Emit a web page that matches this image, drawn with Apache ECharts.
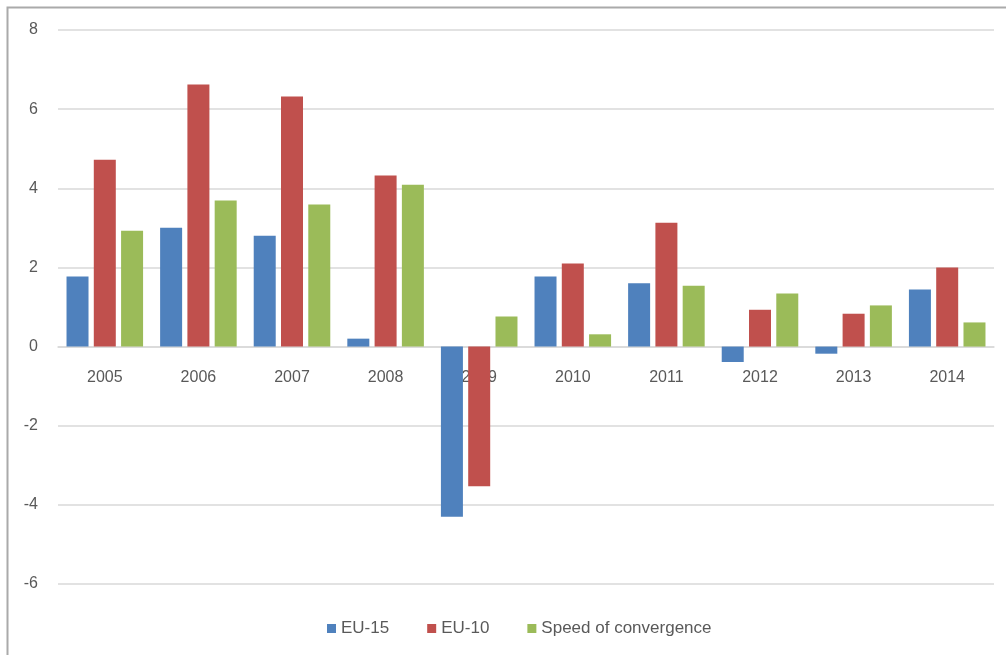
<!DOCTYPE html>
<html><head><meta charset="utf-8">
<script src="https://cdn.jsdelivr.net/npm/echarts@6/dist/echarts.min.js"></script>
<style>html,body{margin:0;padding:0;background:#fff}#c{width:1006px;height:655px}</style>
</head><body><div id="c"></div>
<script>
var categories = ['2005','2006','2007','2008','2009','2010','2011','2012','2013','2014'];
var eu15 = [1.77, 3.0, 2.8, 0.2, -4.3, 1.77, 1.6, -0.39, -0.18, 1.44];
var eu10 = [4.72, 6.62, 6.32, 4.32, -3.53, 2.1, 3.13, 0.93, 0.83, 2.0];
var speed = [2.93, 3.69, 3.59, 4.09, 0.76, 0.31, 1.54, 1.34, 1.04, 0.61];
var seriesNames = ['EU-15', 'EU-10', 'Speed of convergence'];
var colors = ['#4F81BD', '#C0504D', '#9BBB59'];
var font = 'Liberation Sans, Arial, sans-serif';
var chart = echarts.init(document.getElementById('c'), null, {renderer:'canvas'});
function mk(name, data, color){
  return {name:name, type:'bar', data:data, barWidth:22, barGap:'24%',
    itemStyle:{color:color}};
}
// zero line sits 6/14 of plot height above the bottom (plot height 554)
var plotH = 655 - 30 - 71;
var zeroOffset = -plotH * 6 / 14;
chart.setOption({
  animation:false,
  color: colors,
  graphic:[{type:'rect', shape:{x:7.5,y:7.5,width:1200,height:1200}, style:{fill:'none', stroke:'#aaaaaa', lineWidth:2}, silent:true}],
  grid:{left:58, right:12, top:30, bottom:71, containLabel:false},
  legend:{data:seriesNames, bottom:13, left:322, itemWidth:9, itemHeight:9, itemGap:38, icon:'rect',
    textStyle:{fontFamily:font, fontSize:17, color:'#595959'}},
  xAxis:{type:'category', data:categories, position:'bottom', offset:zeroOffset,
    axisLine:{onZero:false, lineStyle:{color:'#d9d9d9', width:1.5}},
    axisTick:{show:false},
    axisLabel:{fontFamily:font, fontSize:16, color:'#595959', margin:23}},
  yAxis:{type:'value', min:-6, max:8, interval:2,
    axisLine:{show:false}, axisTick:{show:false},
    splitLine:{lineStyle:{color:'#d9d9d9', width:1.5}},
    axisLabel:{fontFamily:font, fontSize:16, color:'#595959', margin:20}},
  series:[mk(seriesNames[0], eu15, colors[0]), mk(seriesNames[1], eu10, colors[1]), mk(seriesNames[2], speed, colors[2])]
});
</script></body></html>
